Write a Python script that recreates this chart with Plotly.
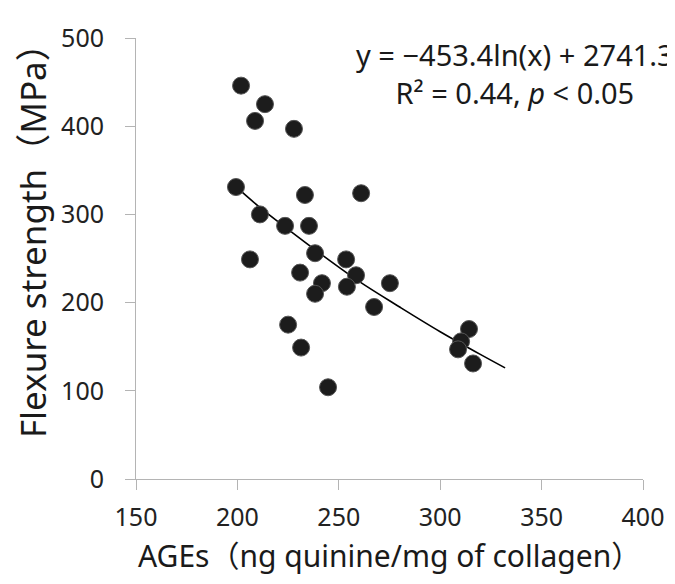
import plotly.graph_objects as go

# AGEs (ng quinine/mg of collagen) vs flexure strength (MPa)
ages = [201.8, 213.6, 208.7, 227.9, 199.3, 233.3, 211.1, 223.5, 235.3, 238.3,
        206.2, 230.9, 241.7, 238.3, 261.0, 253.6, 258.5, 254.0, 275.2, 267.4,
        225.0, 231.4, 244.7, 314.2, 310.3, 308.8, 316.2]
strength = [446, 425, 406, 397, 331, 322, 300, 287, 287, 256,
            249, 234, 222, 210, 324, 249, 231, 218, 222, 195,
            175, 149, 104, 170, 156, 147, 131]

# logarithmic trend line as drawn in the figure
trend_x = [199, 210, 225, 240, 260, 280, 300, 320, 332]
trend_y = [332, 310, 283, 257, 224, 195, 167, 141, 126]

x_ticks = [150, 200, 250, 300, 350, 400]
y_ticks = [0, 100, 200, 300, 400, 500]

FONT = "Noto Sans, Open Sans, Noto Sans CJK SC, sans-serif"
AXIS_GREY = "#b4b4b4"
TEXT = "#1a1a1a"

fig = go.Figure()

fig.add_trace(
    go.Scatter(
        x=trend_x,
        y=trend_y,
        mode="lines",
        line=dict(color="black", width=1.6, shape="spline"),
        showlegend=False,
        hoverinfo="skip",
    )
)

fig.add_trace(
    go.Scatter(
        x=ages,
        y=strength,
        mode="markers",
        marker=dict(size=17, color="#1c1c1c", line=dict(width=1, color="#555555")),
        showlegend=False,
        hovertemplate="AGEs %{x}<br>Strength %{y} MPa<extra></extra>",
    )
)

# regression equation, top right
fig.add_annotation(
    text="y = −453.4ln(x) + 2741.3<br>R² = 0.44, <i>p</i> < 0.05",
    x=1.065,
    y=1.012,
    xref="paper",
    yref="paper",
    xanchor="right",
    yanchor="top",
    align="center",
    showarrow=False,
    font=dict(family=FONT, size=29, color=TEXT),
)

# axis titles as annotations so they can sit where the original has them
fig.add_annotation(
    text="AGEs（ng quinine/mg of collagen）",
    x=0.5,
    y=-0.174,
    xref="paper",
    yref="paper",
    xanchor="center",
    yanchor="middle",
    showarrow=False,
    font=dict(family=FONT, size=30, color=TEXT),
)
fig.add_annotation(
    text="Flexure strength（MPa）",
    x=-0.205,
    y=0.56,
    xref="paper",
    yref="paper",
    xanchor="center",
    yanchor="middle",
    textangle=-90,
    showarrow=False,
    font=dict(family=FONT, size=35, color=TEXT),
)

axis_common = dict(
    showline=True,
    linecolor=AXIS_GREY,
    linewidth=1,
    showgrid=False,
    zeroline=False,
    ticks="outside",
    ticklen=10,
    tickcolor=AXIS_GREY,
    ticklabeloverflow="allow",
    tickfont=dict(family=FONT, size=25, color="#222222"),
)

fig.update_xaxes(range=[150, 400], tickvals=x_ticks, ticklabelstandoff=6, **axis_common)
fig.update_yaxes(range=[0, 500], tickvals=y_ticks, ticklabelstandoff=16, **axis_common)

fig.update_layout(
    width=675,
    height=584,
    plot_bgcolor="white",
    paper_bgcolor="white",
    margin=dict(l=128, r=40, t=17, b=113),
)

fig.write_html("out.html")
